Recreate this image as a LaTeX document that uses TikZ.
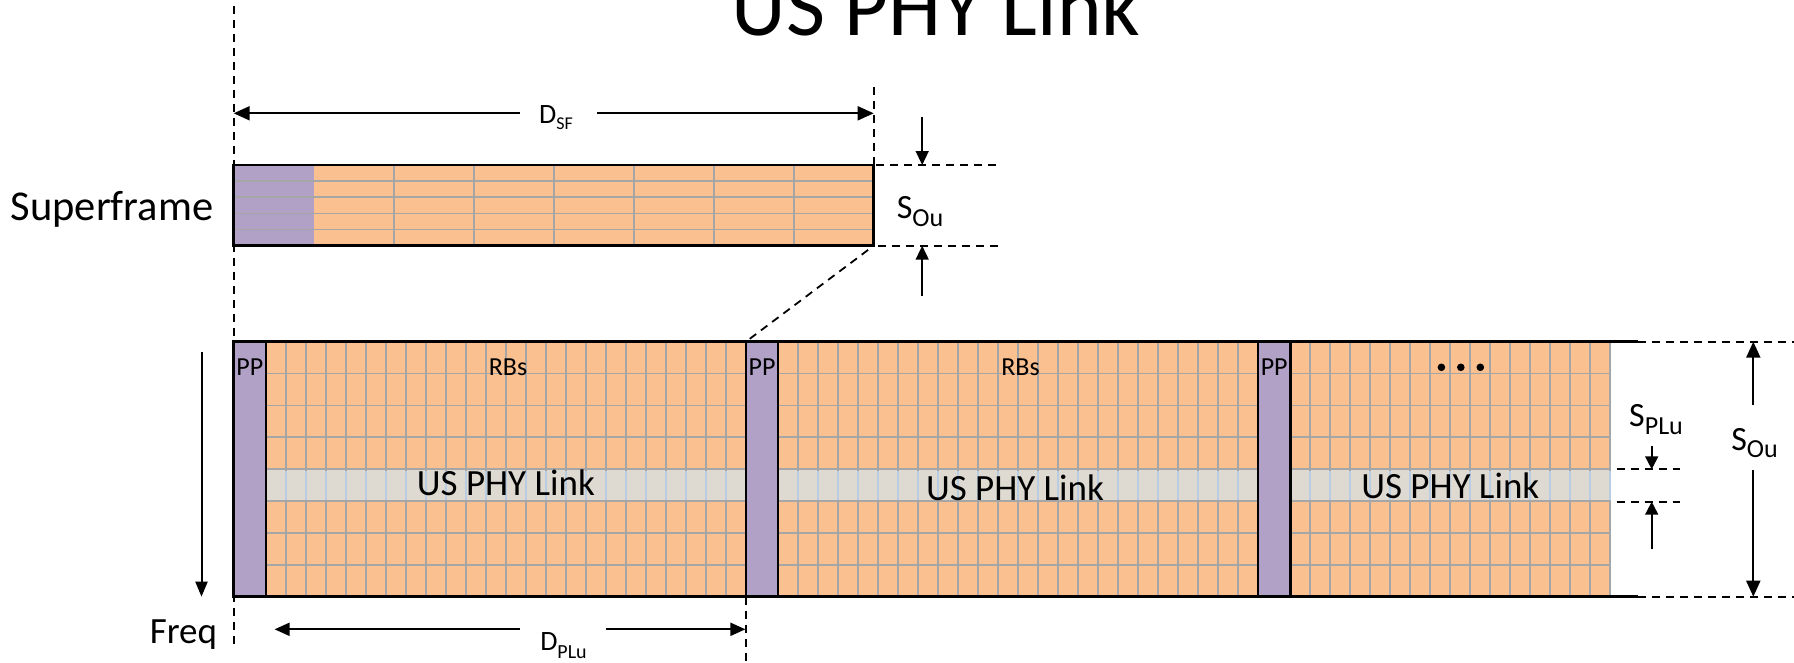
\documentclass[tikz,border=0pt]{standalone}
\usepackage{fontspec}
\setmainfont{Carlito}
\usetikzlibrary{arrows.meta}
\definecolor{rborange}{HTML}{FAC090}
\definecolor{pppurple}{HTML}{B2A1C7}
\definecolor{bandgray}{HTML}{DEDAD2}
\definecolor{gridgray}{HTML}{A6A6A6}
\definecolor{bandblue}{HTML}{B9CDE2}
\newcommand\myfs[1]{\fontsize{#1}{#1}\selectfont}
\tikzset{
  lbl/.style={inner sep=0pt, anchor=base},
  gridline/.style={draw=gridgray, line width=1.8pt},
  bandline/.style={draw=bandblue, line width=1.8pt},
  frameline/.style={draw=black, line width=2.5pt},
  guide/.style={draw=black, line width=1.8pt, dash pattern=on 8pt off 6pt},
  dimarrow/.style={draw=black, line width=2pt, -{Triangle[length=16pt,width=14pt]}},
  smallarrow/.style={draw=black, line width=1.6pt, -{Triangle[length=14pt,width=13pt]}},
}
\begin{document}
\begin{tikzpicture}[x=1pt,y=-1pt]
\useasboundingbox (0,0) rectangle (1794,662);

% ---------- title ----------
\node[lbl] (title) at (936,35) {\myfs{85}US PHY Link};

% ---------- guide lines ----------
\coordinate (gTop) at (233.7,6);
\coordinate (gBot) at (233.7,646);
\draw[guide] (gTop) -- (gBot);
\coordinate (sfRtop) at (873.7,87);
\coordinate (sfRbot) at (873.7,165);
\draw[guide] (sfRtop) -- (sfRbot);
\coordinate (segTop) at (745.9,596.7);
\coordinate (segBot) at (745.9,662);
\draw[guide] (segTop) -- (segBot);
\coordinate (sfCorner) at (873.7,245.7);
\coordinate (pp2Corner) at (745.9,341.7);
\draw[guide, shorten <=7pt] (sfCorner) -- (pp2Corner);

% ---------- superframe ----------
\fill[rborange] (233.7,165) rectangle (873.7,245.7);
\fill[pppurple] (233.7,165) rectangle (313.7,245.7);
\foreach \i in {2,...,7} \draw[gridline] (233.7+80*\i,165) -- (233.7+80*\i,245.7);
\foreach \j in {1,...,4} \draw[gridline] (233.7,165+16.14*\j) -- (873.7,165+16.14*\j);
\draw[frameline] (233.7,165) rectangle (873.7,245.7);
\node[lbl] (sflabel) at (112,220) {\myfs{42.5}Superframe};

% D_SF
\coordinate (dsfL) at (233.7,113.3);
\coordinate (dsfR) at (873.7,113.3);
\coordinate (dsfGL) at (520,113.3);
\coordinate (dsfGR) at (597,113.3);
\draw[dimarrow] (dsfGL) -- (dsfL);
\draw[dimarrow] (dsfGR) -- (dsfR);
\node[lbl] (dsf) at (556,123.3) {\myfs{28}D\raisebox{-6pt}{\myfs{18}SF}};

% S_Ou (superframe)
\coordinate (souA) at (922.2,117);
\coordinate (souB) at (922.2,165);
\coordinate (souC) at (922.2,295.7);
\coordinate (souD) at (922.2,245.7);
\draw[smallarrow] (souA) -- (souB);
\draw[smallarrow] (souC) -- (souD);
\coordinate (souh1a) at (876,165);
\coordinate (souh1b) at (1000.5,165);
\coordinate (souh2a) at (878,245.7);
\coordinate (souh2b) at (1000.5,245.7);
\draw[guide] (souh1a) -- (souh1b);
\draw[guide] (souh2a) -- (souh2b);
\node[lbl] (sou1) at (920,218.3) {\myfs{34}S\raisebox{-8pt}{\myfs{26}Ou}};

% ---------- lower box ----------
\fill[rborange] (233.7,341.7) rectangle (1610.3,596.7);
\fill[bandgray] (233.7,469.2) rectangle (1610.3,501.1);
\foreach \s/\n in {265.9/24, 778.1/24, 1290.3/16} {
  \foreach \j in {1,...,\n} {
    \draw[gridline] (\s+20*\j,341.7) -- (\s+20*\j,596.7);
    \draw[bandline] (\s+20*\j,470.6) -- (\s+20*\j,499.7);
  }
}
\foreach \k in {1,2,3,6,7} \draw[gridline] (233.7,341.7+31.875*\k) -- (1610.3,341.7+31.875*\k);
\foreach \k in {4,5} \draw[gridline, line width=2.4pt] (233.7,341.7+31.875*\k) -- (1610.3,341.7+31.875*\k);

\foreach \p/\nm in {233.7/pp1, 745.9/pp2, 1258.1/pp3} {
  \draw[frameline, fill=pppurple] (\p,341.7) rectangle (\p+32.2,596.7);
  \node[lbl] (\nm) at (\p+16.1,375.7) {\myfs{26}PP};
}
\coordinate (topL) at (233.7,341.7);
\coordinate (topR) at (1638,341.7);
\coordinate (botL) at (233.7,596.7);
\coordinate (botR) at (1638,596.7);
\draw[frameline] (topL) -- (topR);
\draw[frameline] (botL) -- (botR);
\coordinate (topE) at (1794,341.7);
\coordinate (botE) at (1794,596.7);
\draw[guide] (topR) -- (topE);
\draw[guide] (botR) -- (botE);

\node[lbl] (rbs1) at (508,375.7) {\myfs{26}RBs};
\node[lbl] (rbs2) at (1020.5,375.7) {\myfs{26}RBs};
\fill (1441.4,367.3) circle (3.8pt);
\fill (1460.8,367.3) circle (3.8pt);
\fill (1480.3,367.3) circle (3.8pt);

\node[lbl] (link1) at (505.9,495) {\myfs{37}US PHY Link};
\node[lbl] (link2) at (1015,500) {\myfs{37}US PHY Link};
\node[lbl] (link3) at (1450.3,498.3) {\myfs{37}US PHY Link};

% Freq
\coordinate (fqA) at (201.5,352);
\coordinate (fqB) at (201.5,596.7);
\draw[draw=black, line width=2pt, -{Triangle[length=15pt,width=12pt]}] (fqA) -- (fqB);
\node[lbl] (freq) at (183.4,643.3) {\myfs{37}Freq};

% D_PLu
\coordinate (dplL) at (274.6,629.3);
\coordinate (dplR) at (745.4,629.3);
\coordinate (dplGL) at (519.6,629.3);
\coordinate (dplGR) at (605.7,629.3);
\draw[draw=black, line width=2pt, -{Triangle[length=15pt,width=13pt]}] (dplGL) -- (dplL);
\draw[draw=black, line width=2pt, -{Triangle[length=15pt,width=13pt]}] (dplGR) -- (dplR);
\node[lbl] (dplu) at (563.5,650.7) {\myfs{28}D\raisebox{-7.6pt}{\myfs{20}PLu}};

% S_PLu
\coordinate (spA1) at (1616.7,469.3);
\coordinate (spA2) at (1680,469.3);
\coordinate (spB1) at (1616.7,501.7);
\coordinate (spB2) at (1680,501.7);
\draw[guide] (spA1) -- (spA2);
\draw[guide] (spB1) -- (spB2);
\coordinate (spU) at (1651.7,446);
\coordinate (spUt) at (1651.7,469.3);
\coordinate (spD) at (1651.7,549.3);
\coordinate (spDt) at (1651.7,501.7);
\draw[draw=black, line width=1.8pt, -{Triangle[length=13pt,width=13pt]}] (spU) -- (spUt);
\draw[draw=black, line width=1.8pt, -{Triangle[length=13pt,width=13pt]}] (spD) -- (spDt);
\node[lbl] (splu) at (1656,426) {\myfs{34}S\raisebox{-8pt}{\myfs{26}PLu}};

% S_Ou (right)
\coordinate (so2a) at (1753.3,405);
\coordinate (so2b) at (1753.3,341.7);
\coordinate (so2c) at (1753.3,470);
\coordinate (so2d) at (1753.3,596.7);
\draw[dimarrow] (so2a) -- (so2b);
\draw[dimarrow] (so2c) -- (so2d);
\node[lbl] (sou2) at (1754.5,450) {\myfs{34}S\raisebox{-7.3pt}{\myfs{26}Ou}};
\end{tikzpicture}
\end{document}
